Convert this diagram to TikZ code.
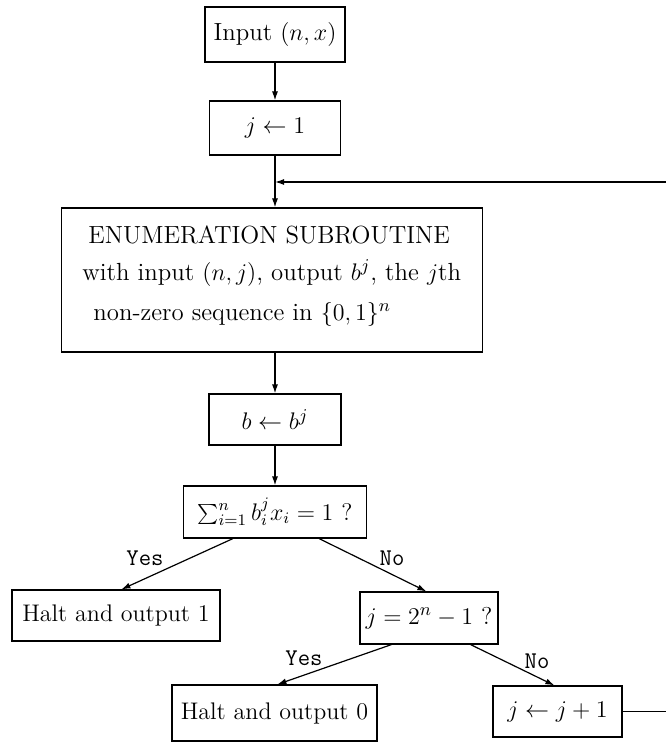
\documentclass[tikz,border=0pt]{standalone}
\usetikzlibrary{arrows.meta,calc}
\begin{document}
\begin{tikzpicture}[x=0.5pt,y=-0.5pt,
  box/.style={draw, line width=0.6pt, inner sep=0pt, align=center, font=\fontsize{12}{14}\selectfont},
  big/.style={font=\fontsize{12.8}{15}\selectfont},
  etext/.style={anchor=base west, inner sep=0pt, font=\fontsize{12.4}{15}\selectfont},
  arr/.style={line width=0.6pt, -{Latex[length=4.5pt,width=3pt]}},
  conn/.style={line width=0.6pt},
  lbl/.style={inner sep=0pt, font=\fontsize{12}{14}\selectfont\ttfamily}]
\useasboundingbox (0,0) rectangle (665,743);
% boxes
\node[box, font=\fontsize{12.4}{15}\selectfont, minimum width=70pt, minimum height=27.5pt] (inp) at (275,34.5) {Input $(n,x)$};
\node[box, big, minimum width=65.5pt, minimum height=27pt] (j1) at (275,128) {$j \leftarrow 1$};
\node[box, minimum width=210.5pt, minimum height=72pt] (enum) at (272,280) {};
\node[etext] (e1) at (88,243) {ENUMERATION SUBROUTINE};
\node[etext] (e2) at (82,280) {with input $(n,j)$, output $b^j$, the $j$th};
\node[etext] (e3) at (93,320) {non-zero sequence in $\{0,1\}^n$};
\node[box, font=\fontsize{13}{15}\selectfont, minimum width=66pt, minimum height=25.5pt] (b) at (275,419.5) {$b \leftarrow b^j$};
\node[box, minimum width=91.5pt, minimum height=26pt] (sum) at (275,512) {$\sum_{i=1}^{n} b_i^j x_i = 1$ ?};
\node[box, minimum width=104pt, minimum height=25.5pt] (halt1) at (116,615.5) {Halt and output 1};
\node[box, font=\fontsize{12.2}{14}\selectfont, minimum width=69pt, minimum height=26pt] (q2) at (429,618) {$j = 2^n - 1$ ?};
\node[box, minimum width=102.5pt, minimum height=28pt] (halt0) at (274.5,713) {Halt and output 0};
\node[box, font=\fontsize{13}{15}\selectfont, minimum width=64.5pt, minimum height=25.5pt] (jj) at (557.5,711.5) {$j \leftarrow j + 1$};
% branch labels
\node[lbl] (y1) at (145,558) {Yes};
\node[lbl] (n1) at (392,558) {No};
\node[lbl] (y2) at (304,658) {Yes};
\node[lbl] (n2) at (537,661) {No};
% coordinates
\coordinate (jn) at (275,182);
\coordinate (rb) at (669,711.5);
\coordinate (rt) at (669,182);
% connectors
\draw[arr] (inp.south) -- (j1.north);
\draw[conn] (j1.south) -- (jn);
\draw[arr] (jn) -- (jn |- enum.north);
\draw[arr] (b.north |- enum.south) -- (b.north);
\draw[arr] (b.south) -- (sum.north);
\draw[arr] ($(sum.south west)+(50,0)$) -- ($(halt1.north west)+(110,0)$);
\draw[arr] ($(sum.south east)+(-48,0)$) -- ($(q2.north west)+(67,0)$);
\draw[arr] ($(q2.south west)+(32,0)$) -- ($(halt0.north west)+(106,0)$);
\draw[arr] ($(q2.south east)+(-28,0)$) -- ($(jj.north west)+(62,0)$);
\draw[arr] (jj.east) -- (rb) -- (rt) -- (jn);
\end{tikzpicture}
\end{document}
